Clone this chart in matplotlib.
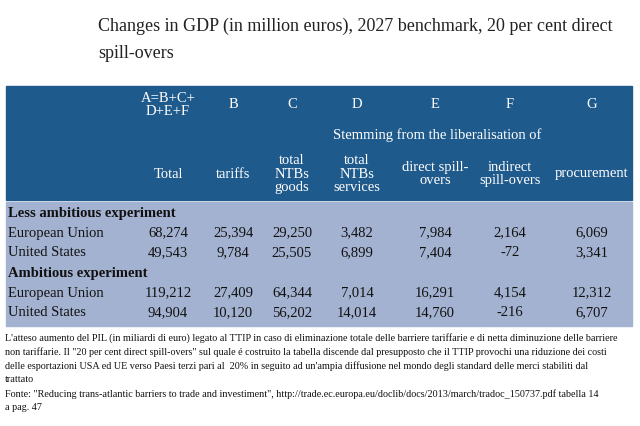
import matplotlib
matplotlib.use("Agg")
import matplotlib.pyplot as plt
from matplotlib.patches import Rectangle

plt.rcParams['font.family'] = ['Liberation Serif', 'DejaVu Serif']

# table data
col_letters = ['A=B+C+\nD+E+F', 'B', 'C', 'D', 'E', 'F', 'G']
col_names = ['Total', 'tariffs', 'total\nNTBs\ngoods', 'total\nNTBs\nservices',
             'direct spill-\novers', 'indirect\nspill-overs', 'procurement']
groups = ['Less ambitious experiment', 'Ambitious experiment']
regions = ['European Union', 'United States']
values = [
    [['68,274', '25,394', '29,250', '3,482', '7,984', '2,164', '6,069'],
     ['49,543', '9,784', '25,505', '6,899', '7,404', '-72', '3,341']],
    [['119,212', '27,409', '64,344', '7,014', '16,291', '4,154', '12,312'],
     ['94,904', '10,120', '56,202', '14,014', '14,760', '-216', '6,707']],
]
title = "Changes in GDP (in million euros), 2027 benchmark, 20 per cent direct\nspill-overs"
footnote = [
    "L'atteso aumento del PIL (in miliardi di euro) legato al TTIP in caso di eliminazione totale delle barriere tariffarie e di netta diminuzione delle barriere",
    "non tariffarie. Il \"20 per cent direct spill-overs\" sul quale é costruito la tabella discende dal presupposto che il TTIP provochi una riduzione dei costi",
    "delle esportazioni USA ed UE verso Paesi terzi pari al  20% in seguito ad un'ampia diffusione nel mondo degli standard delle merci stabiliti dal",
    "trattato",
    "Fonte: \"Reducing trans-atlantic barriers to trade and investiment\", http://trade.ec.europa.eu/doclib/docs/2013/march/tradoc_150737.pdf tabella 14",
    "a pag. 47",
]

fig = plt.figure(figsize=(6.4, 4.26), dpi=100)
ax = fig.add_axes([0, 0, 1, 1])
ax.set_xlim(0, 640)
ax.set_ylim(426, 0)
ax.axis('off')

ax.text(98, 40, title, fontsize=13, va='center', ha='left', linespacing=1.75, color='#222222')

# backgrounds
ax.add_patch(Rectangle((6, 86), 626, 114, color='#1f5a8c'))
ax.add_patch(Rectangle((6, 202), 626, 124, color='#a3b2d0'))

col_x = [168, 233, 292, 357, 435, 510, 592]
for x, let, name in zip(col_x, col_letters, col_names):
    ax.text(x, 105, let, fontsize=10.5, color='white', ha='center', va='center', linespacing=1.0)
    ax.text(x, 174 if name.count('\n') != 1 else 174, name, fontsize=10.5, color='white',
            ha='center', va='center', linespacing=1.05)
ax.text(437, 135, 'Stemming from the liberalisation of', fontsize=10.5, color='white',
        ha='center', va='center')

y = 213
for g, grp in enumerate(groups):
    ax.text(8, y, grp, fontsize=10.5, fontweight='bold', color='#111111', va='center')
    y += 20
    for r, reg in enumerate(regions):
        ax.text(8, y, reg, fontsize=10.5, color='#111111', va='center')
        for x, v in zip(col_x, values[g][r]):
            ax.text(x, y, v, fontsize=10.5, color='#111111', ha='center', va='center')
        y += 20

for i, line in enumerate(footnote):
    ax.text(5, 338 + 14 * i, line, fontsize=7.3, color='#111111', va='center')

fig.savefig('out.png', dpi=100)
